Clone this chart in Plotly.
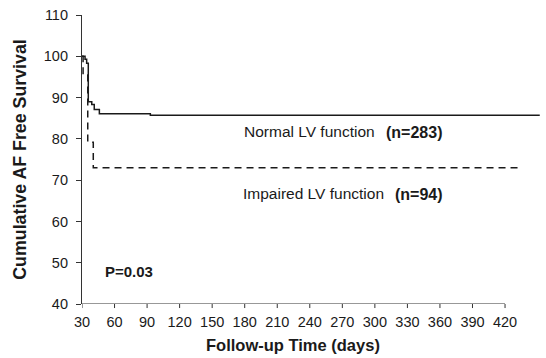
import plotly.graph_objects as go

normal_days = [30, 32.8, 34.3, 35.8, 39, 41.3, 46, 93, 452]
normal_surv = [100, 99.3, 98.3, 89.0, 88.3, 87.1, 86.1, 85.7, 85.7]
impaired_days = [30, 31, 35.3, 40.4, 434]
impaired_surv = [100, 95.5, 79.2, 73.0, 73.0]

x_ticks = list(range(30, 421, 30))
y_ticks = list(range(40, 111, 10))

font = "Liberation Sans, Arial, sans-serif"
ink = "#1a1a1a"

# plot geometry (pixels) used to place annotations
L, R, T, B = 82, 3, 15, 54
X0, X1 = 30, 455
W, H = 546, 358
PW, PH = W - L - R, H - T - B
px_per_day = PW / (X1 - X0)
px_per_val = PH / 70.0

def day(px):
    return X0 + (px - L) / px_per_day

def val(py):
    return 110 - (py - T) / px_per_val

def paper_x(px):
    return (px - L) / PW

def paper_y(py):
    return (H - B - py) / PH

fig = go.Figure()
fig.add_trace(go.Scatter(x=normal_days, y=normal_surv, mode="lines", line_shape="hv",
                         line=dict(color=ink, width=1.5), showlegend=False))
fig.add_trace(go.Scatter(x=impaired_days, y=impaired_surv, mode="lines", line_shape="hv",
                         line=dict(color=ink, width=1.5, dash="7px,5px"), showlegend=False))

# x axis line only up to 420
fig.add_shape(type="line", xref="x", yref="y", x0=30, x1=420, y0=40, y1=40,
              line=dict(color="#333", width=1.2))
for t in x_ticks:
    fig.add_shape(type="line", xref="x", yref="paper", x0=t, x1=t, y0=0, y1=-0.014,
                  line=dict(color="#333", width=1))

fig.update_layout(
    width=W, height=H,
    margin=dict(l=L, r=R, t=T, b=B),
    paper_bgcolor="white", plot_bgcolor="white",
    font=dict(family=font, color=ink),
    xaxis=dict(range=[X0, X1], tickvals=x_ticks, ticktext=[str(t) for t in x_ticks],
               showline=False, ticks="", showgrid=False, zeroline=False, automargin=False,
               tickfont=dict(size=14.5), ticklabelstandoff=7),
    yaxis=dict(range=[40, 110], tickvals=y_ticks, showline=True, linecolor="#333", linewidth=1.2,
               ticks="outside", ticklen=5, tickcolor="#333", showgrid=False, zeroline=False,
               automargin=False, tickfont=dict(size=14.5), ticklabelstandoff=5,
               title=dict(text="<b>Cumulative AF Free Survival</b>", font=dict(size=17.8), standoff=12)),
)

# x axis title (centred under the drawn axis 30-420)
fig.add_annotation(x=paper_x(293), y=paper_y(345), xref="paper", yref="paper",
                   text="<b>Follow-up Time (days)</b>",
                   showarrow=False, xanchor="center", yanchor="middle",
                   font=dict(family=font, size=16.5, color=ink))

fig.add_annotation(x=day(242), y=val(131), xref="x", yref="y", text="Normal LV function",
                   showarrow=False, xanchor="left", yanchor="middle",
                   font=dict(family=font, size=15.5, color=ink))
fig.add_annotation(x=day(384), y=val(132), xref="x", yref="y", text="<b>(n=283)</b>",
                   showarrow=False, xanchor="left", yanchor="middle",
                   font=dict(family=font, size=16, color=ink))
fig.add_annotation(x=day(241), y=val(193), xref="x", yref="y", text="Impaired LV function",
                   showarrow=False, xanchor="left", yanchor="middle",
                   font=dict(family=font, size=15.5, color=ink))
fig.add_annotation(x=day(393), y=val(194), xref="x", yref="y", text="<b>(n=94)</b>",
                   showarrow=False, xanchor="left", yanchor="middle",
                   font=dict(family=font, size=16, color=ink))
fig.add_annotation(x=day(103), y=val(271), xref="x", yref="y", text="<b>P=0.03</b>",
                   showarrow=False, xanchor="left", yanchor="middle",
                   font=dict(family=font, size=15, color=ink))

fig.write_html("out.html", config={"displayModeBar": False},
               post_script="document.body.style.margin='0';")
